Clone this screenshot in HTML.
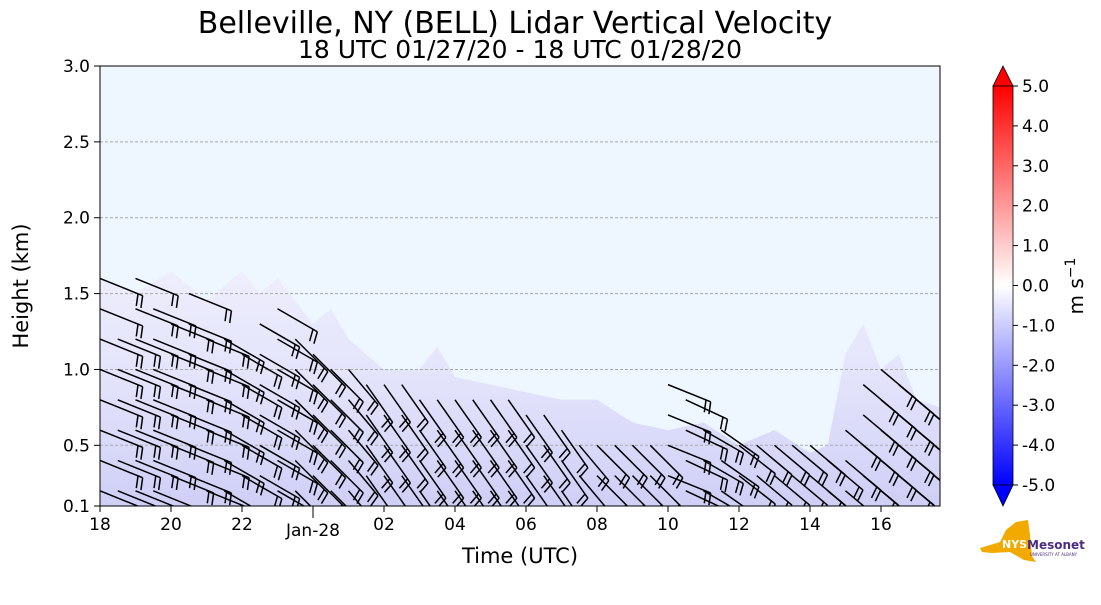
<!DOCTYPE html>
<html><head><meta charset="utf-8"><style>
body{margin:0;background:#fff;font-family:"Liberation Sans","DejaVu Sans",sans-serif}
svg text{font-family:"DejaVu Sans","Liberation Sans",sans-serif}
</style></head><body>
<svg id="chart" width="1101" height="600" xmlns="http://www.w3.org/2000/svg">
<defs>
<linearGradient id="cb" x1="0" y1="1" x2="0" y2="0">
<stop offset="0" stop-color="#0000ff"/><stop offset="0.5" stop-color="#ffffff"/><stop offset="1" stop-color="#ff0000"/>
</linearGradient>
<linearGradient id="shade" x1="0" y1="1" x2="0" y2="0">
<stop offset="0" stop-color="#cfcff7"/><stop offset="0.5" stop-color="#e2e2fb"/><stop offset="1" stop-color="#eeeefd"/>
</linearGradient>
<clipPath id="plotclip"><rect x="100" y="66" width="840" height="440"/></clipPath>
</defs>
<text x="515" y="33" text-anchor="middle" font-size="30">Belleville, NY (BELL) Lidar Vertical Velocity</text>
<text x="520" y="58" text-anchor="middle" font-size="25">18 UTC 01/27/20 - 18 UTC 01/28/20</text>
<rect x="100" y="66" width="840" height="440" fill="#eef6ff"/>
<g id="shading" clip-path="url(#plotclip)"></g>
<g id="grid"></g>
<g id="barbs" clip-path="url(#plotclip)"></g>
<rect x="100" y="66" width="840" height="440" fill="none" stroke="#000" stroke-width="1"/>
<g id="axes"></g>
<text x="520" y="563" text-anchor="middle" font-size="21">Time (UTC)</text>
<text transform="translate(28,286) rotate(-90)" text-anchor="middle" font-size="21">Height (km)</text>
<g>
<polygon points="993,86 1003,66 1013,86" fill="#ff0000" stroke="#000" stroke-width="0.8"/>
<rect x="993" y="86" width="20" height="399" fill="url(#cb)" stroke="#000" stroke-width="0.8"/>
<polygon points="993,485 1003,506 1013,485" fill="#0000ff" stroke="#000" stroke-width="0.8"/>
<g id="cbticks"></g>
<text transform="translate(1083,286) rotate(-90)" text-anchor="middle" font-size="20">m s<tspan dy="-8" font-size="14">−1</tspan></text>
</g>
<g>
<polygon points="980,548 1000,542 1006,530 1016,522 1028,520 1030,535 1032,556 1036,562 1024,560 1010,552 992,553 982,552" fill="#f2a900"/>
<text x="1002" y="548" font-size="11" font-weight="bold" fill="#fff" font-family="Liberation Sans">NYS</text>
<text x="1027" y="549" font-size="12" font-weight="bold" fill="#4b2e83" font-family="Liberation Sans">Mesonet</text>
<text x="1030" y="556" font-size="4" fill="#4b2e83" font-family="Liberation Sans">UNIVERSITY AT ALBANY</text>
</g>
</svg>
<script>
// ---- data ----
const colTimes = [0,0.5,1,1.5,2,2.5,3,3.5,4,4.5,5,5.5,6,6.5,7,7.5,8,8.5,9,9.5,10,10.5,11,11.5,12,12.5,13,13.5,14,14.5,15,15.5,16,16.5,17,17.5,18,18.5,19,19.5,20,20.5,21,21.5,22,22.5,23,23.5]; // hours since 18 UTC
const colTops = [1.6,1.2,1.6,1.4,1.3,1.5,1.2,1.2,1.1,1.3,1.4,1.2,1.1,1.0,1.0,0.9,0.9,0.9,0.8,0.8,0.8,0.8,0.8,0.8,0.7,0.7,0.6,0.5,0.5,0.5,0.5,0.5,0.9,0.8,0.6,0.6,0.5,0.5,0.5,0.5,0.5,0.4,0.6,0.9,1.0,0.9,0.8,0.7];
const colAngles = [22,22,22,22,22,22,22,30,30,30,30,45,45,45,50,55,55,55,55,55,55,55,55,55,55,55,55,50,45,45,45,45,22,25,30,35,38,40,40,40,40,40,40,40,40,40,40,40];
const echoTimes = [0,1,2,3,4,4.5,5,6,6.5,7,8,9,9.5,10,11,12,13,14,15,16,17,18,19,20,20.5,21,21.5,22,22.5,23,23.66];
const echoTops = [1.6,1.5,1.65,1.45,1.65,1.5,1.6,1.3,1.4,1.2,1.0,1.0,1.15,0.95,0.9,0.85,0.8,0.8,0.65,0.6,0.65,0.5,0.6,0.45,0.5,1.1,1.3,1.0,1.1,0.8,0.75];
const xTickLabels = ["18","20","22","Jan-28","02","04","06","08","10","12","14","16"];
const yTicks = [0.1,0.5,1.0,1.5,2.0,2.5,3.0];
const cbTicks = [5,4,3,2,1,0,-1,-2,-3,-4,-5];
// ---- scales ----
const X = h => 100 + h*35.5;
const Y = km => 506 - (km-0.1)*(440/2.9);
const C = v => 485 - (v+5)*(399/10);
const NS="http://www.w3.org/2000/svg";
function mk(tag,attrs,parent){const e=document.createElementNS(NS,tag);for(const k in attrs)e.setAttribute(k,attrs[k]);parent.appendChild(e);return e;}
// shading
const sh=document.getElementById('shading');
let pts=[X(echoTimes[0])+','+Y(0.1)];
echoTimes.forEach((t,i)=>pts.push(X(t)+','+Y(echoTops[i])));
pts.push(X(echoTimes[echoTimes.length-1])+','+Y(0.1));
const poly=mk('polygon',{points:pts.join(' '),fill:'url(#shade)'},sh);


// grid & axes
const g=document.getElementById('grid'), ax=document.getElementById('axes');
yTicks.forEach(v=>{
  if(v>0.1&&v<3.0){const l=mk('line',{x1:100,x2:940,y1:Y(v),y2:Y(v),stroke:'#aaa','stroke-dasharray':'3,2','stroke-width':1},g);
  
  }
  mk('line',{x1:94,x2:100,y1:Y(v),y2:Y(v),stroke:'#000'},ax);
  const t=mk('text',{x:90,y:Y(v)+6,'text-anchor':'end','font-size':17},ax);t.textContent=v.toFixed(1);
  
  
});
xTickLabels.forEach((s,i)=>{
  const x=X(i*2);
  mk('line',{x1:x,x2:x,y1:506,y2:(s.startsWith('Jan')?518:512),stroke:'#000'},ax);
  const t=mk('text',{x:x,y:(s.startsWith('Jan')?536:530),'text-anchor':'middle','font-size':17},ax);t.textContent=s;
  
  
});
// colorbar ticks
const cbt=document.getElementById('cbticks');
cbTicks.forEach(v=>{
  mk('line',{x1:1013,x2:1018,y1:C(v),y2:C(v),stroke:'#000'},cbt);
  const t=mk('text',{x:1022,y:C(v)+6,'font-size':17},cbt);t.textContent=v.toFixed(1);
  
  
});
// barbs
const bg=document.getElementById('barbs');
colTimes.forEach((t,i)=>{
  const a=colAngles[i]*Math.PI/180, L=46, dx=Math.cos(a), dy=Math.sin(a);
  for(let h=colTops[i]; h>=0.05; h-=0.2){
    const x0=X(t), y0=Y(h), x1=x0+L*dx, y1=y0+L*dy;
    const grp=mk('g',{stroke:'#000','stroke-width':1.5,fill:'none'},bg);
    
    
    mk('line',{x1:x0,y1:y0,x2:x1,y2:y1},grp);
    for(let k=0;k<2;k++){
      const bx=x1-k*5*dx, by=y1-k*5*dy;
      mk('line',{x1:bx,y1:by,x2:bx-12*dy+3*dx,y2:by+12*dx+3*dy},grp);
    }
  }
});
</script>
</body></html>
